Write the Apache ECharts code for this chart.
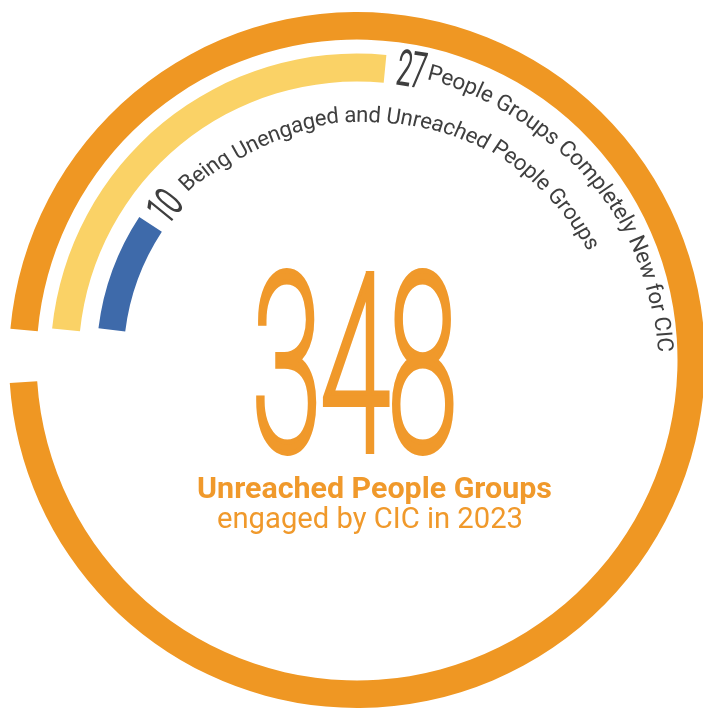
<!DOCTYPE html>
<html><head><meta charset="utf-8">
<script src="https://cdn.jsdelivr.net/npm/echarts@6/dist/echarts.min.js"></script>
<style>html,body{margin:0;padding:0;background:#fff}#c{width:703px;height:709px}</style></head>
<body><div id="c"></div>
<script>
// ---------------- data ----------------
const categories = ['Unreached People Groups engaged by CIC in 2023', 'People Groups Completely New for CIC', 'Being Unengaged and Unreached People Groups'];
const values = [348, 27, 10];
const arcTexts = ['People Groups Completely New for CIC', 'Being Unengaged and Unreached People Groups'];
const captionBold = 'Unreached People Groups';
const captionRegular = 'engaged by CIC in 2023';

// ---------------- layout / style ----------------
const CX = 357, CY = 360;
const ORANGE = '#EF9723', YELLOW = '#FAD266', BLUE = '#3E6AAA', GREY = '#3f3f3f', TEXT_ORANGE = '#F0992B';
const rings = [
  { radius: 348, width: 27.5, start: 174.85, end: -176.2, color: ORANGE },
  { radius: 306.5, width: 28, start: 174.1, end: 84.5, color: YELLOW },
  { radius: 260.5, width: 27, start: 173.0, end: 146.7, color: BLUE }
];
// middle radius of curved texts, by angle (deg)
const arcPaths = [
  { a0: 76.1, a1: 1.5, radii: [[80, 295], [74.9, 295], [60, 294.3], [49.1, 295], [44.9, 296.3], [26.6, 302], [22.3, 302.7], [12.9, 303.7], [5.1, 306.2], [0, 307]] },
  { a0: 135.3, a1: 25.2, radii: [[140, 246], [133.8, 244], [120, 238], [109.3, 239], [96.8, 243.5], [89.3, 243.5], [81, 244.8], [61.2, 251], [56.2, 253.5], [38.5, 257], [26.2, 260.5], [20, 262]] }
];

const canvas = document.createElement('canvas');
const ctx = canvas.getContext('2d');

function interp(pts, a) {
  if (a >= pts[0][0]) return pts[0][1];
  for (let i = 1; i < pts.length; i++) {
    if (a >= pts[i][0]) {
      const [a0, r0] = pts[i - 1], [a1, r1] = pts[i];
      return r0 + (r1 - r0) * (a - a0) / (a1 - a0);
    }
  }
  return pts[pts.length - 1][1];
}

function arcText(str, path, color) {
  const rAt = a => interp(path.radii, a);
  let L = 0; const N = 400;
  for (let i = 0; i < N; i++) {
    const a = path.a0 + (path.a1 - path.a0) * (i + 0.5) / N;
    L += rAt(a) * Math.abs(path.a1 - path.a0) / N * Math.PI / 180;
  }
  const chars = Array.from(str);
  ctx.font = "400 20px Roboto";
  const W = chars.reduce((s, ch) => s + ctx.measureText(ch).width, 0);
  const fs = 20 * L / W;
  const font = `400 ${fs.toFixed(2)}px Roboto`;
  ctx.font = font;
  const out = [];
  let a = path.a0;
  for (const ch of chars) {
    const w = ctx.measureText(ch).width;
    a -= (w / 2) / rAt(a) * 180 / Math.PI;
    const r = rAt(a), rad = a * Math.PI / 180;
    if (ch !== ' ') out.push({
      type: 'text', x: CX + r * Math.cos(rad), y: CY - r * Math.sin(rad),
      rotation: (a - 90) * Math.PI / 180, silent: true,
      style: { text: ch, font: font, fill: color, align: 'center', verticalAlign: 'middle' }
    });
    a -= (w / 2) / rAt(a) * 180 / Math.PI;
  }
  return out;
}

// fit a thin, condensed text into an ink box of w x h centred at (x,y), rotated
function fittedText(str, box, color, lw, weight) {
  const base = 200;
  ctx.textAlign = 'center'; ctx.textBaseline = 'middle';
  ctx.font = `${weight} ${base}px Roboto`;
  const m = ctx.measureText(str);
  const inkH = m.actualBoundingBoxAscent + m.actualBoundingBoxDescent;
  const fs = base * (box.h - lw) / inkH;
  ctx.font = `${weight} ${fs}px Roboto`;
  const m2 = ctx.measureText(str);
  const inkW = m2.actualBoundingBoxLeft + m2.actualBoundingBoxRight;
  const sx = box.w / (inkW + lw);
  const offX = (m2.actualBoundingBoxRight - m2.actualBoundingBoxLeft) / 2 * sx;
  const offY = (m2.actualBoundingBoxDescent - m2.actualBoundingBoxAscent) / 2;
  const rot = (box.rot || 0) * Math.PI / 180;
  const x = box.x - (offX * Math.cos(rot) + offY * Math.sin(rot));
  const y = box.y - (-offX * Math.sin(rot) + offY * Math.cos(rot));
  return {
    type: 'text', x, y, rotation: rot, scaleX: sx, scaleY: 1, silent: true,
    style: { text: str, font: `${weight} ${fs.toFixed(2)}px Roboto`, fill: color, stroke: color, lineWidth: lw, lineJoin: 'round', align: 'center', verticalAlign: 'middle' }
  };
}

function caption(str, weight, centerX, capTop, width, color) {
  ctx.textAlign = 'center'; ctx.textBaseline = 'middle';
  ctx.font = `${weight} 20px Roboto`;
  const w20 = ctx.measureText(str).width;
  const fs = 20 * width / w20;
  const font = `${weight} ${fs.toFixed(2)}px Roboto`;
  ctx.font = font;
  const asc = ctx.measureText('H').actualBoundingBoxAscent;
  return { type: 'text', x: centerX, y: capTop + asc, silent: true,
    style: { text: str, font, fill: color, align: 'center', verticalAlign: 'middle' } };
}

const series = rings.map((rg, i) => ({
  type: 'gauge', name: categories[i],
  center: [CX, CY], radius: rg.radius,
  startAngle: rg.start, endAngle: rg.end, clockwise: true,
  min: 0, max: values[i],
  axisLine: { show: false },
  progress: { show: true, width: rg.width, roundCap: false, itemStyle: { color: rg.color } },
  pointer: { show: false }, anchor: { show: false },
  axisTick: { show: false }, splitLine: { show: false }, axisLabel: { show: false },
  title: { show: false }, detail: { show: false },
  data: [{ value: values[i], name: categories[i] }]
}));

const graphics = []
  .concat(arcText(arcTexts[0], arcPaths[0], GREY))
  .concat(arcText(arcTexts[1], arcPaths[1], GREY));
graphics.push(fittedText(String(values[1]), { x: 412, y: 69, w: 28, h: 37, rot: -9 }, GREY, 2.6, 100));
graphics.push(fittedText(String(values[2]), { x: 164, y: 205, w: 26, h: 32, rot: 51 }, GREY, 2.6, 100));
graphics.push(fittedText(String(values[0]), { x: 355, y: 362, w: 198, h: 189, rot: 0 }, TEXT_ORANGE, 10, 100));
graphics.push(caption(captionBold, 700, 374.5, 477.3, 355, TEXT_ORANGE));
graphics.push(caption(captionRegular, 400, 370, 506.7, 306, TEXT_ORANGE));

const chart = echarts.init(document.getElementById('c'), null, { renderer: 'canvas' });
chart.setOption({ animation: false, backgroundColor: '#fff', series, graphic: graphics });
</script></body></html>
